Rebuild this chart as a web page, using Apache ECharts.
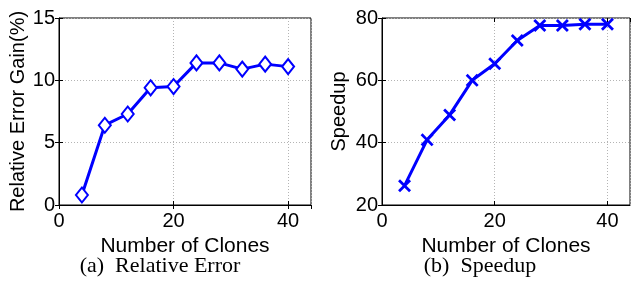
<!DOCTYPE html>
<html>
<head>
<meta charset="utf-8">
<script src="https://cdn.jsdelivr.net/npm/echarts@6/dist/echarts.min.js"></script>
<style>
  html, body { margin: 0; padding: 0; background: #fff; }
  #chart { width: 631px; height: 286px; }
</style>
</head>
<body>
<div id="chart"></div>
<script>
// number of clones (shared x values)
var clones = [4, 8, 12, 16, 20, 24, 28, 32, 36, 40];
// (a) relative error gain in %
var errorGain = [0.8, 6.4, 7.3, 9.4, 9.5, 11.4, 11.4, 10.9, 11.3, 11.1];
// (b) speedup
var speedup = [26.2, 40.9, 48.9, 60.0, 65.3, 72.8, 77.6, 77.6, 78.0, 78.0];

var xTicks = [0, 20, 40];
var captions = ['(a)  Relative Error', '(b)  Speedup'];

var chart = echarts.init(document.getElementById('chart'), null, { renderer: 'canvas' });

var font = 'Liberation Sans, Arial, sans-serif';
var serif = 'Liberation Serif, Times New Roman, serif';
var blue = '#0000ff';
var gridLine = { show: true, lineStyle: { color: '#b4b4b4', type: [1, 2], width: 1 } };
var tick = { show: true, inside: true, length: 4, lineStyle: { color: '#000' } };

function pairs(ys) {
  return clones.map(function (x, i) { return [x, ys[i]]; });
}

function xAxisFor(idx) {
  return {
    type: 'value', gridIndex: idx, min: 0, max: 44, interval: 20,
    name: 'Number of Clones', nameLocation: 'middle', nameGap: 25,
    nameTextStyle: { fontFamily: font, fontSize: 21, color: '#000' },
    axisLine: { show: true, onZero: false, lineStyle: { color: '#000', width: 1 } },
    axisTick: tick,
    axisLabel: {
      fontFamily: font, fontSize: 20, color: '#000', margin: 6, showMaxLabel: false,
      formatter: function (v) { return xTicks.indexOf(v) >= 0 ? String(v) : ''; }
    },
    splitLine: gridLine
  };
}

// mirrored ticks along the top / right border
function mirrorX(idx) {
  return {
    type: 'value', gridIndex: idx, position: 'top', min: 0, max: 44, interval: 20,
    axisLine: { show: false }, axisTick: tick, axisLabel: { show: false }, splitLine: { show: false }
  };
}
function mirrorY(idx, min, max, step) {
  return {
    type: 'value', gridIndex: idx, position: 'right', min: min, max: max, interval: step,
    axisLine: { show: false }, axisTick: tick, axisLabel: { show: false }, splitLine: { show: false }
  };
}

function yAxisFor(idx, min, max, step, name, gap) {
  return {
    type: 'value', gridIndex: idx, min: min, max: max, interval: step,
    name: name, nameLocation: 'middle', nameGap: gap,
    nameTextStyle: { fontFamily: font, fontSize: 20, color: '#000' },
    axisLine: { show: true, lineStyle: { color: '#000', width: 1 } },
    axisTick: tick,
    axisLabel: { fontFamily: font, fontSize: 20, color: '#000', margin: 4 },
    splitLine: gridLine
  };
}

var xMark = 'path://M0,1.5L1.5,0L5,3.5L8.5,0L10,1.5L6.5,5L10,8.5L8.5,10L5,6.5L1.5,10L0,8.5L3.5,5Z';

chart.setOption({
  animation: false,
  title: [
    { text: captions[0], left: 155, top: 250, textAlign: 'center',
      textStyle: { fontFamily: serif, fontSize: 22, fontWeight: 'normal', color: '#000' } },
    { text: captions[1], left: 475, top: 250, textAlign: 'center',
      textStyle: { fontFamily: serif, fontSize: 22, fontWeight: 'normal', color: '#000' } }
  ],
  grid: [
    { left: 59, top: 18, width: 252, height: 187, show: true, borderColor: '#000', borderWidth: 1, backgroundColor: '#fff' },
    { left: 382, top: 18, width: 248, height: 187, show: true, borderColor: '#000', borderWidth: 1, backgroundColor: '#fff' }
  ],
  xAxis: [xAxisFor(0), xAxisFor(1), mirrorX(0), mirrorX(1)],
  yAxis: [
    yAxisFor(0, 0, 15, 5, 'Relative Error Gain(%)', 30),
    yAxisFor(1, 20, 80, 20, 'Speedup', 33),
    mirrorY(0, 0, 15, 5),
    mirrorY(1, 20, 80, 20)
  ],
  series: [
    {
      type: 'line', xAxisIndex: 0, yAxisIndex: 0, data: pairs(errorGain),
      symbol: 'emptyDiamond', symbolSize: [12, 15], showAllSymbol: true,
      lineStyle: { color: blue, width: 3 },
      itemStyle: { color: blue, borderColor: blue, borderWidth: 3 }
    },
    {
      type: 'line', xAxisIndex: 1, yAxisIndex: 1, data: pairs(speedup),
      symbol: xMark, symbolSize: 13, showAllSymbol: true,
      lineStyle: { color: blue, width: 3 },
      itemStyle: { color: blue, borderColor: blue, borderWidth: 0 }
    }
  ]
});
</script>
</body>
</html>
